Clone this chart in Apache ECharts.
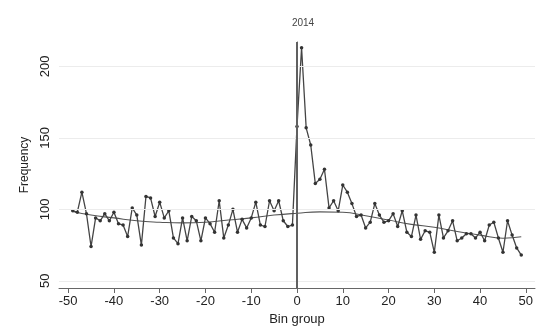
<!DOCTYPE html>
<html>
<head>
<meta charset="utf-8">
<script src="https://cdn.jsdelivr.net/npm/echarts@6/dist/echarts.min.js"></script>
<style>
  html, body { margin: 0; padding: 0; background: #fff; }
  #chart { width: 540px; height: 329px; }
</style>
</head>
<body>
<div id="chart"></div>
<script>
// bins and counts
const bins = [
  -49, -48, -47, -46, -45, -44, -43, -42, -41, -40,
  -39, -38, -37, -36, -35, -34, -33, -32, -31, -30,
  -29, -28, -27, -26, -25, -24, -23, -22, -21, -20,
  -19, -18, -17, -16, -15, -14, -13, -12, -11, -10,
  -9, -8, -7, -6, -5, -4, -3, -2, -1, 0,
  1, 2, 3, 4, 5, 6, 7, 8, 9, 10,
  11, 12, 13, 14, 15, 16, 17, 18, 19, 20,
  21, 22, 23, 24, 25, 26, 27, 28, 29, 30,
  31, 32, 33, 34, 35, 36, 37, 38, 39, 40,
  41, 42, 43, 44, 45, 46, 47, 48, 49
];
const frequency = [
  99, 98, 112, 97, 74, 94, 92, 97, 92, 98,
  90, 89, 81, 101, 96, 75, 109, 108, 95, 105,
  94, 99, 80, 76, 94, 78, 95, 92, 78, 94,
  90, 84, 106, 80, 89, 100, 84, 93, 87, 94,
  105, 89, 88, 106, 99, 106, 92, 88, 89, 158,
  213, 157, 145, 118, 121, 128, 101, 106, 99, 117,
  112, 104, 95, 96, 87, 91, 104, 96, 91, 92,
  97, 88, 99, 84, 81, 96, 79, 85, 84, 70,
  96, 80, 85, 92, 78, 80, 83, 83, 80, 84,
  78, 89, 91, 80, 70, 92, 82, 73, 68
];

// fitted (smoothed) curve, read at a few points
const fitX = [-49, -45, -40, -35, -30, -25, -20, -15, -10, -5, 0, 5, 10, 15, 20, 25, 30, 35, 40, 45, 49];
const fitY = [98.5, 96, 94, 92, 91, 90.5, 91, 92.5, 94, 96, 97.3, 98.2, 98, 95.5, 92.5, 89.5, 87.5, 84.5, 82, 79.8, 80.8];

const xTicks = [-50, -40, -30, -20, -10, 0, 10, 20, 30, 40, 50];
const yTicks = [50, 100, 150, 200];

const chart = echarts.init(document.getElementById('chart'), null, { renderer: 'canvas' });

const font = 'Liberation Sans, Arial, sans-serif';

const option = {
  animation: false,
  title: {
    text: '2014',
    left: 298,
    top: 13,
    textAlign: 'center',
    textStyle: { fontSize: 10, fontWeight: 'normal', color: '#444', fontFamily: font }
  },
  grid: {
    left: 59,
    right: 5,
    top: 42,
    bottom: 41,
    containLabel: false,
    outerBoundsMode: 'none'
  },
  xAxis: {
    type: 'value',
    min: -52,
    max: 52,
    name: 'Bin group',
    nameLocation: 'middle',
    nameGap: 22,
    nameTextStyle: { fontSize: 13, color: '#222', fontFamily: font },
    axisLine: { lineStyle: { color: '#666', width: 1 } },
    axisTick: { show: true, length: 5, customValues: xTicks, lineStyle: { color: '#666' } },
    axisLabel: { customValues: xTicks, margin: 7, fontSize: 13, color: '#222', fontFamily: font },
    splitLine: { show: false }
  },
  yAxis: {
    type: 'value',
    min: 45,
    max: 217,
    name: 'Frequency',
    nameLocation: 'middle',
    nameGap: 23,
    nameTextStyle: { fontSize: 12, color: '#222', fontFamily: font },
    axisLine: { show: true, lineStyle: { color: '#666', width: 1 } },
    axisTick: { show: true, length: 5, customValues: yTicks, lineStyle: { color: '#666' } },
    axisLabel: { customValues: yTicks, rotate: 90, margin: 7, fontSize: 13, color: '#222', fontFamily: font },
    splitLine: { show: false }
  },
  series: [
    {
      name: 'fit',
      type: 'line',
      data: fitX.map((x, i) => [x, fitY[i]]),
      smooth: true,
      showSymbol: false,
      lineStyle: { color: '#555', width: 1.1 },
      z: 3,
      markLine: {
        silent: true,
        symbol: 'none',
        label: { show: false },
        lineStyle: { color: '#ececec', width: 1, type: 'solid' },
        data: yTicks.map(v => ({ yAxis: v }))
      }
    },
    {
      name: 'Frequency',
      type: 'line',
      data: bins.map((b, i) => [b, frequency[i]]),
      symbol: 'circle',
      symbolSize: 3.5,
      itemStyle: { color: '#333' },
      lineStyle: { color: '#444', width: 1.3 },
      z: 4,
      markLine: {
        silent: true,
        symbol: 'none',
        label: { show: false },
        lineStyle: { color: '#606060', width: 2, type: 'solid' },
        data: [{ xAxis: 0 }]
      }
    }
  ]
};

chart.setOption(option);
</script>
</body>
</html>
